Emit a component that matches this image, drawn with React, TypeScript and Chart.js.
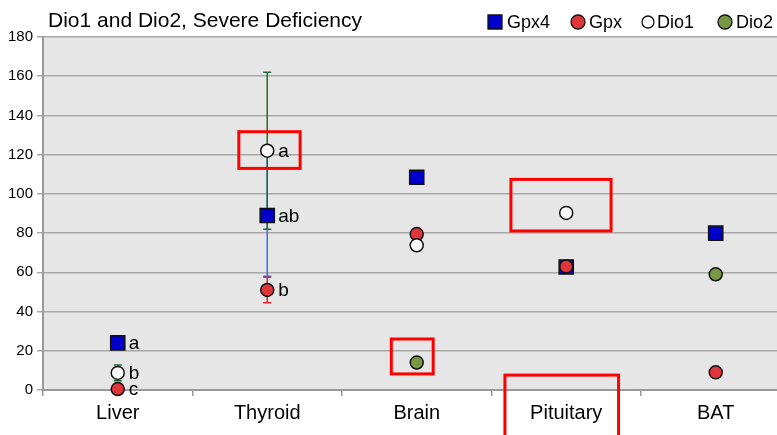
import React, { useEffect, useRef } from 'react';
import { Chart, registerables } from 'chart.js';
Chart.register(...registerables);

const FONT = '"Liberation Sans", Arial, sans-serif';

const titleText = 'Dio1 and Dio2, Severe Deficiency';
const categories = ['Liver', 'Thyroid', 'Brain', 'Pituitary', 'BAT'];

const gpx4Values = [24, 89, 108.5, 62.7, 80];
const gpxValues = [0.5, 51, 79.5, 63, 9];
const dio1Values = [8.7, 122, 73.8, 90.3, null];
const dio2Values = [null, null, 14, null, 59];

const gpx4Errors = [0, 31, 0, 0, 0];
const gpxErrors = [0, 6.5, 0, 0, 0];
const dio1Errors = [4, 40, 0, 0, 0];
const dio2Errors = [0, 0, 0, 0, 0];

const gpx4Letters = ['a', 'ab', '', '', ''];
const gpxLetters = ['c', 'b', '', '', ''];
const dio1Letters = ['b', 'a', '', '', ''];
const dio2Letters = ['', '', '', '', ''];

// visible category range (the last category is cut off at the right edge in the source)
const xMin = -0.5;
const xMax = 4.333;

// highlight boxes in data coordinates: category index, offsets in category units, value range
const highlightCats = [1, 2, 3, 3];
const highlightX0 = [-0.19, -0.17, -0.37, -0.41];
const highlightX1 = [0.22, 0.11, 0.3, 0.35];
const highlightLow = [113, 8.2, 81.1, -30];
const highlightHigh = [131.7, 26, 107.4, 7.6];

const series = [
  { label: 'Gpx4', data: gpx4Values, err: gpx4Errors, letters: gpx4Letters, style: 'rect', fill: '#0000cc', errColor: '#3a6df0', radius: 10, order: 4 },
  { label: 'Gpx', data: gpxValues, err: gpxErrors, letters: gpxLetters, style: 'circle', fill: '#e0363b', errColor: '#e0262b', radius: 6.5, order: 3 },
  { label: 'Dio1', data: dio1Values, err: dio1Errors, letters: dio1Letters, style: 'circle', fill: '#ffffff', errColor: '#1e6e32', radius: 6.5, order: 2 },
  { label: 'Dio2', data: dio2Values, err: dio2Errors, letters: dio2Letters, style: 'circle', fill: '#779944', errColor: '#4a6a2a', radius: 6.5, order: 1 },
];

// extend plot area (grid lines, axis line) to the canvas edge after the scales are configured
const extendPlugin = {
  id: 'extendPlugin',
  afterLayout(chart: any) {
    chart.chartArea.right = chart.width;
    chart.chartArea.width = chart.chartArea.right - chart.chartArea.left;
    const xs = chart.scales.x;
    if (xs) {
      xs.right = chart.width;
      xs.width = xs.right - xs.left;
    }
  },
};

const bgPlugin = {
  id: 'bgPlugin',
  beforeDraw(chart: any) {
    const { ctx, chartArea, width, height } = chart;
    ctx.save();
    ctx.fillStyle = '#ffffff';
    ctx.fillRect(0, 0, width, height);
    ctx.fillStyle = '#e6e6e6';
    ctx.fillRect(chartArea.left, chartArea.top, width - chartArea.left, chartArea.bottom - chartArea.top);
    ctx.restore();
  },
};

const errorBarPlugin = {
  id: 'errorBarPlugin',
  beforeDatasetsDraw(chart: any) {
    const { ctx } = chart;
    const xs = chart.scales.x;
    const ys = chart.scales.y;
    ctx.save();
    series.forEach((s) => {
      s.data.forEach((v, i) => {
        const e = s.err[i];
        if (v == null || !e) return;
        const x = xs.getPixelForValue(i);
        const yTop = ys.getPixelForValue(v + e);
        const yBot = ys.getPixelForValue(v - e);
        ctx.strokeStyle = s.errColor;
        ctx.lineWidth = 1.5;
        ctx.beginPath();
        ctx.moveTo(x, yTop);
        ctx.lineTo(x, yBot);
        ctx.moveTo(x - 4, yTop);
        ctx.lineTo(x + 4, yTop);
        ctx.moveTo(x - 4, yBot);
        ctx.lineTo(x + 4, yBot);
        ctx.stroke();
      });
    });
    ctx.restore();
  },
};

const letterPlugin = {
  id: 'letterPlugin',
  afterDatasetsDraw(chart: any) {
    const { ctx } = chart;
    const xs = chart.scales.x;
    const ys = chart.scales.y;
    ctx.save();
    ctx.fillStyle = '#000';
    ctx.font = `19px ${FONT}`;
    ctx.textAlign = 'left';
    ctx.textBaseline = 'middle';
    series.forEach((s) => {
      s.data.forEach((v, i) => {
        const t = s.letters[i];
        if (v == null || !t) return;
        ctx.fillText(t, xs.getPixelForValue(i) + 11, ys.getPixelForValue(v) + 1);
      });
    });
    ctx.restore();
  },
};

const overlayPlugin = {
  id: 'overlayPlugin',
  afterDraw(chart: any) {
    const { ctx } = chart;
    const xs = chart.scales.x;
    const ys = chart.scales.y;
    ctx.save();
    // title
    ctx.fillStyle = '#000';
    ctx.font = `21px ${FONT}`;
    ctx.textAlign = 'left';
    ctx.textBaseline = 'alphabetic';
    ctx.fillText(titleText, 48, 27);

    // legend
    const legendX = [495, 578, 648, 725];
    ctx.font = `18px ${FONT}`;
    ctx.textBaseline = 'middle';
    series.forEach((s, k) => {
      const cx = legendX[k];
      const cy = 22;
      ctx.fillStyle = s.fill;
      ctx.strokeStyle = '#111';
      ctx.lineWidth = 1.3;
      ctx.beginPath();
      if (s.style === 'rect') {
        ctx.rect(cx - 7, cy - 7, 14, 14);
      } else {
        const r = s.label === 'Dio1' ? 6 : 7;
        ctx.arc(cx, cy, r, 0, Math.PI * 2);
      }
      ctx.fill();
      ctx.stroke();
      ctx.fillStyle = '#000';
      ctx.fillText(s.label, cx + (s.style === 'rect' ? 12 : s.label === 'Dio1' ? 9 : 11), cy + 1);
    });

    // highlight boxes
    ctx.strokeStyle = '#ff0000';
    ctx.lineWidth = 3;
    highlightCats.forEach((c, k) => {
      const x0 = xs.getPixelForValue(c + highlightX0[k]);
      const x1 = xs.getPixelForValue(c + highlightX1[k]);
      const y0 = ys.getPixelForValue(highlightHigh[k]);
      const y1 = ys.getPixelForValue(highlightLow[k]);
      ctx.strokeRect(x0, y0, x1 - x0, y1 - y0);
    });
    ctx.restore();
  },
};

export default function App() {
  const ref = useRef<HTMLCanvasElement>(null);
  useEffect(() => {
    const chart = new Chart(ref.current as HTMLCanvasElement, {
      type: 'scatter',
      data: {
        datasets: series.map((s) => ({
          label: s.label,
          data: s.data
            .map((v, i) => ({ x: i, y: v }))
            .filter((p) => p.y != null) as any,
          showLine: false,
          pointStyle: s.style as any,
          pointRadius: s.radius,
          pointHoverRadius: s.radius,
          pointBackgroundColor: s.fill,
          pointBorderColor: '#111',
          pointBorderWidth: 1.5,
          backgroundColor: s.fill,
          borderColor: '#111',
          order: s.order,
          clip: false as any,
        })),
      },
      options: {
        responsive: true,
        maintainAspectRatio: false,
        animation: false,
        devicePixelRatio: 1,
        layout: { padding: { top: 37, left: 0, right: 0, bottom: 0 } },
        plugins: {
          legend: { display: false },
          title: { display: false },
          tooltip: { enabled: false },
        },
        scales: {
          x: {
            type: 'linear',
            min: xMin,
            max: xMax,
            afterBuildTicks: (s: any) => {
              const t: any[] = [];
              for (let i = 0; i < categories.length; i++) {
                t.push({ value: i - 0.5 });
                t.push({ value: i });
              }
              s.ticks = t.filter((k) => k.value <= xMax);
            },
            grid: {
              drawOnChartArea: false,
              drawTicks: true,
              tickLength: 6,
              tickColor: (c: any) => (c.tick && Number.isInteger(c.tick.value) ? 'rgba(0,0,0,0)' : '#999'),
              color: '#999',
              lineWidth: 1.5,
            },
            border: { color: '#999', width: 2 },
            ticks: {
              autoSkip: false,
              maxRotation: 0,
              font: { family: FONT, size: 20 },
              color: '#000',
              padding: 5,
              callback: (v: any) => (Number.isInteger(v) ? categories[v] : ''),
            },
            afterFit: (s: any) => {
              s.height = 45;
            },
          },
          y: {
            min: 0,
            max: 180,
            ticks: { stepSize: 20, font: { family: FONT, size: 15 }, color: '#000', padding: 4 },
            grid: { color: '#a8a8a8', lineWidth: 1.5, tickLength: 6 },
            border: { color: '#999', width: 2 },
            afterFit: (s: any) => {
              s.width = 43;
            },
          },
        },
      },
      plugins: [extendPlugin, bgPlugin, errorBarPlugin, letterPlugin, overlayPlugin],
    });
    return () => chart.destroy();
  }, []);
  return (
    <div style={{ position: 'fixed', left: 0, top: 0, width: 777, height: 435, overflow: 'hidden', background: '#fff' }}>
      <canvas ref={ref} />
    </div>
  );
}
